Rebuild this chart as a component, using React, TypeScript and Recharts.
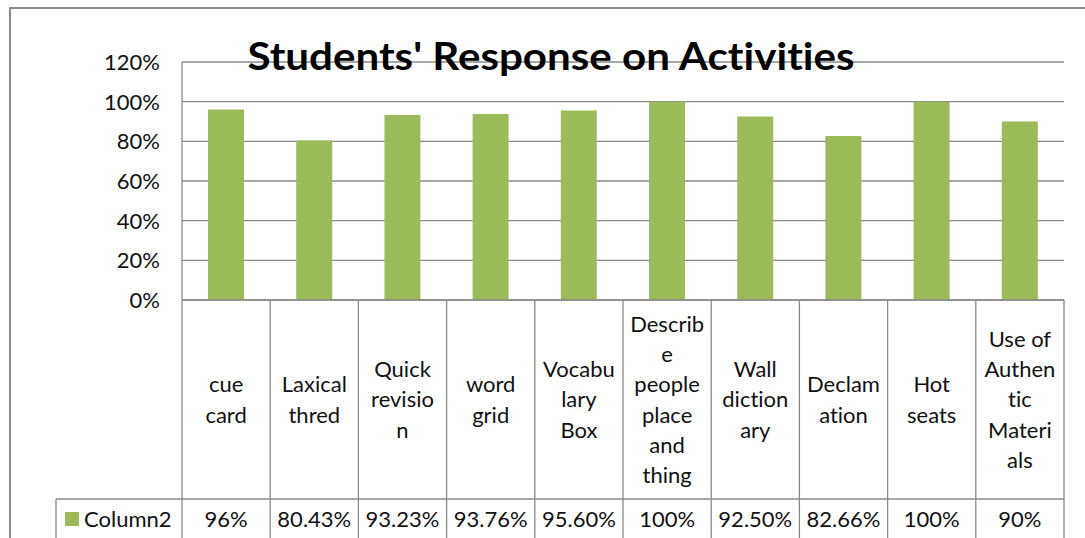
import React from 'react';
import { BarChart, Bar, XAxis, YAxis, CartesianGrid, Customized } from 'recharts';

const categories = [
  'cue card',
  'Laxical thred',
  'Quick revision',
  'word grid',
  'Vocabulary Box',
  'Describe people place and thing',
  'Wall dictionary',
  'Declamation',
  'Hot seats',
  'Use of Authentic Materials',
];
const labelLines = [
  ['cue', 'card'],
  ['Laxical', 'thred'],
  ['Quick', 'revisio', 'n'],
  ['word', 'grid'],
  ['Vocabu', 'lary', 'Box'],
  ['Describ', 'e', 'people', 'place', 'and', 'thing'],
  ['Wall', 'diction', 'ary'],
  ['Declam', 'ation'],
  ['Hot', 'seats'],
  ['Use of', 'Authen', 'tic', 'Materi', 'als'],
];
const values = [96, 80.43, 93.23, 93.76, 95.6, 100, 92.5, 82.66, 100, 90];
const valueLabels = ['96%', '80.43%', '93.23%', '93.76%', '95.60%', '100%', '92.50%', '82.66%', '100%', '90%'];
const yTicks = [0, 20, 40, 60, 80, 100, 120];
const seriesName = 'Column2';
const title = "Students' Response on Activities";

const data = categories.map((name, i) => ({ name, value: values[i] }));

const W = 1085;
const H = 538;
const PLOT_LEFT = 182;
const PLOT_RIGHT = 1064;
const PLOT_TOP = 62;
const PLOT_BOTTOM = 300;
const TABLE_SPLIT = 499;
const LEGEND_LEFT = 56;
const LINE = '#8a8a8a';
const GREEN = '#9BBB59';
const FONT = 'Lato, "Open Sans", sans-serif';
const BW = (PLOT_RIGHT - PLOT_LEFT) / categories.length;
const NOLIG = { fontVariantLigatures: 'none' as const };

const YTick = (props: any) => {
  const { y, payload } = props;
  return (
    <text x={160} y={y} dy="0.36em" textAnchor="end" fontFamily={FONT} fontSize={22} fill="#111" style={NOLIG}>
      {`${payload.value}%`}
    </text>
  );
};

const TableTick = (props: any) => {
  const { x, payload } = props;
  const idx = categories.indexOf(payload.value);
  const lines = labelLines[idx] || [];
  const lh = 30.2;
  const cy = (PLOT_BOTTOM + TABLE_SPLIT) / 2;
  const startY = cy - ((lines.length - 1) * lh) / 2;
  const left = x - BW / 2;
  const right = x + BW / 2;
  return (
    <g>
      {idx === 0 && (
        <g>
          <line x1={left} y1={PLOT_BOTTOM} x2={left} y2={H} stroke={LINE} strokeWidth={1.3} />
          <line x1={LEGEND_LEFT} y1={TABLE_SPLIT} x2={left} y2={TABLE_SPLIT} stroke={LINE} strokeWidth={1.3} />
          <line x1={LEGEND_LEFT} y1={TABLE_SPLIT} x2={LEGEND_LEFT} y2={H} stroke={LINE} strokeWidth={1.3} />
          <rect x={65} y={512} width={14} height={14} fill={GREEN} />
          <text x={84} y={519} dy="0.36em" fontFamily={FONT} fontSize={22} fill="#111" style={NOLIG}>
            {seriesName}
          </text>
        </g>
      )}
      <line x1={right} y1={PLOT_BOTTOM} x2={right} y2={H} stroke={LINE} strokeWidth={1.3} />
      <line x1={left} y1={TABLE_SPLIT} x2={right} y2={TABLE_SPLIT} stroke={LINE} strokeWidth={1.3} />
      {lines.map((t, i) => (
        <text
          key={i}
          x={x}
          y={startY + i * lh}
          dy="0.36em"
          textAnchor="middle"
          fontFamily={FONT}
          fontSize={22}
          fill="#111"
          style={NOLIG}
        >
          {t}
        </text>
      ))}
      <text x={x} y={519} dy="0.36em" textAnchor="middle" fontFamily={FONT} fontSize={22} fill="#111" style={NOLIG}>
        {valueLabels[idx]}
      </text>
    </g>
  );
};

const Title = () => (
  <text
    x={551}
    y={56}
    dy="0.36em"
    textAnchor="middle"
    fontFamily={FONT}
    fontWeight="bold"
    fontSize={38}
    fill="#000"
    textLength={607}
    lengthAdjust="spacingAndGlyphs"
    style={NOLIG}
  >
    {title}
  </text>
);

export default function App() {
  return (
    <div style={{ position: 'absolute', left: 0, top: 0, width: W, height: H, background: '#fff', overflow: 'hidden' }}>
      <div
        style={{
          position: 'absolute',
          left: 9,
          top: 7,
          width: W,
          height: H,
          borderTop: `2px solid ${LINE}`,
          borderLeft: `2px solid ${LINE}`,
          boxSizing: 'border-box',
        }}
      />
      <div style={{ position: 'absolute', left: 0, top: 0 }}>
        <BarChart
          width={W}
          height={H}
          data={data}
          margin={{ top: PLOT_TOP, right: W - PLOT_RIGHT, left: 0, bottom: 0 }}
          barSize={36}
        >
          <CartesianGrid horizontal vertical={false} stroke={LINE} strokeWidth={1.3} />
          <XAxis
            dataKey="name"
            height={H - PLOT_BOTTOM}
            interval={0}
            tickLine={false}
            axisLine={{ stroke: LINE, strokeWidth: 1.3 }}
            tick={<TableTick />}
          />
          <YAxis
            width={PLOT_LEFT}
            domain={[0, 120]}
            ticks={yTicks}
            interval={0}
            tickLine={false}
            axisLine={{ stroke: LINE, strokeWidth: 1.3 }}
            tick={<YTick />}
          />
          <Bar dataKey="value" fill={GREEN} isAnimationActive={false} />
          <Customized component={Title} />
        </BarChart>
      </div>
    </div>
  );
}
